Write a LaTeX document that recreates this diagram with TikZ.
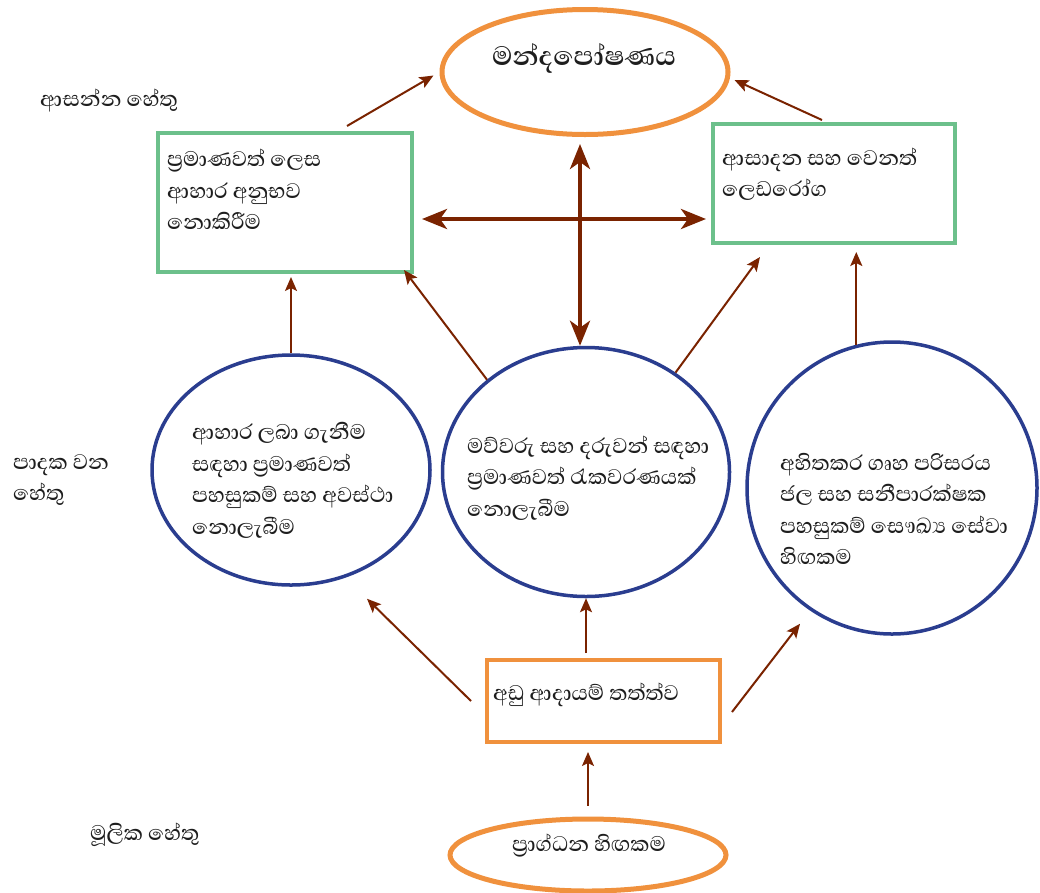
\documentclass[tikz,border=0pt]{standalone}
\usepackage{fontspec}
\setmainfont{Abhaya Libre}[Script=Sinhala]
\newfontfamily\medfont{Abhaya Libre Medium}[Script=Sinhala]
\usetikzlibrary{arrows.meta,shapes.geometric}
\definecolor{orn}{HTML}{F0913D}
\definecolor{grn}{HTML}{6CC08B}
\definecolor{blu}{HTML}{2A3D8F}
\definecolor{brn}{HTML}{7A2300}
\definecolor{txtc}{HTML}{1E1E1E}
\begin{document}
\begin{tikzpicture}[x=1pt,y=-1pt,
  oell/.style={draw=orn, line width=5pt, ellipse, inner sep=0pt},
  gbox/.style={draw=grn, line width=4pt, rectangle, inner sep=0pt},
  bell/.style={draw=blu, line width=3.5pt, ellipse, inner sep=0pt},
  obx/.style={draw=orn, line width=4pt, rectangle, inner sep=0pt},
  txt/.style={anchor=west, align=left, inner sep=0pt, text=txtc, font=\medfont\fontsize{27}{31.5}\selectfont},
  arr/.style={draw=brn, line width=2pt, -{Stealth[length=14pt,width=12pt,inset=3pt]}},
  bigarr/.style={draw=brn, line width=4pt, {Stealth[length=25pt,width=20pt,inset=7pt]}-{Stealth[length=25pt,width=20pt,inset=7pt]}}]
\useasboundingbox[fill=white] (0,0) rectangle (1040,892);

% shapes
\node[oell, minimum width=286pt, minimum height=125pt] (top) at (585,72) {};
\node[gbox, minimum width=254pt, minimum height=139pt] (lbox) at (285,202.5) {};
\node[gbox, minimum width=242pt, minimum height=119pt] (rbox) at (834,183.5) {};
\node[bell, minimum width=278pt, minimum height=230pt] (lc) at (291,470) {};
\node[bell, minimum width=287pt, minimum height=249pt] (cc) at (586,472) {};
\node[bell, minimum width=290pt, minimum height=292pt] (rc) at (892,488) {};
\node[obx, minimum width=233pt, minimum height=82pt] (obox) at (603.5,701) {};
\node[oell, minimum width=276pt, minimum height=72pt] (bot) at (588,855) {};
\coordinate (cross) at (580,219);

% texts
\node[inner sep=0pt, text=txtc, font=\fontsize{34}{38}\selectfont\bfseries] (ttl) at (584,58) {මන්දපෝෂණය};
\node[txt] (l1) at (40,100) {ආසන්න හේතු};
\node[txt] (l2) at (13,480) {පාදක වන\\හේතු};
\node[txt] (l3) at (90,835) {මූලික හේතු};
\node[txt] (tlb) at (167,189.5) {ප්^^^^200dරමාණවත් ලෙස\\ආහාර අනුභව\\නොකිරීම};
\node[txt] (trb) at (722,174) {ආසාදන සහ වෙනත්\\ලෙඩරෝග};
\node[txt] (tlc) at (192,480.5) {ආහාර ලබා ගැනීම\\සඳහා ප්^^^^200dරමාණවත්\\පහසුකම් සහ අවස්ථා\\නොලැබීම};
\node[txt] (tcc) at (467,478) {මව්වරු සහ දරුවන් සඳහා\\ප්^^^^200dරමාණවත් රැකවරණයක්\\නොලැබීම};
\node[txt] (trc) at (780,509) {අහිතකර ගෘහ පරිසරය\\ජල සහ සනීපාරක්ෂක\\පහසුකම් සෞඛ්^^^^200dය සේවා\\හිඟකම};
\node[txt] (tob) at (493,695) {අඩු ආදායම් තත්ත්ව};
\node[inner sep=0pt, text=txtc, font=\medfont\fontsize{27}{31.5}\selectfont] (tbt) at (589,846) {ප්^^^^200dරාග්ධන හිඟකම};

% cross arrows
\draw[bigarr, shorten <=8pt, shorten >=5pt] (lbox.east |- cross) -- (rbox.west |- cross);
\draw[bigarr, shorten <=7pt] (cross |- top.south) -- (cross |- cc.north);

% thin arrows
\draw[arr, shorten >=7pt] ([xshift=62pt,yshift=5pt]lbox.north) -- (top.west);
\draw[arr] ([xshift=-12pt,yshift=2pt]rbox.north) -- ([xshift=4pt,yshift=-8pt]top.east);
\draw[arr, shorten >=3pt] (lc.north) -- (lc.north |- lbox.south);
\draw[arr] (cc.137) -- ([xshift=-10pt,yshift=4pt]lbox.south east);
\draw[arr] (cc.48) -- ([xshift=49pt,yshift=-12pt]rbox.south west);
\draw[arr, shorten >=7pt] (rc.104) -- (rc.104 |- rbox.south);
\draw[arr] ([xshift=-14pt]obox.west) -- ([xshift=76pt,yshift=-12pt]lc.south);
\draw[arr, shorten <=5pt] (cc.south |- obox.north) -- (cc.south);
\draw[arr] ([xshift=10pt,yshift=-11pt]obox.east) -- ([xshift=-92pt,yshift=12pt]rc.south);
\draw[arr, shorten <=11pt, shorten >=8pt] (bot.north) -- (bot.north |- obox.south);
\end{tikzpicture}
\end{document}
